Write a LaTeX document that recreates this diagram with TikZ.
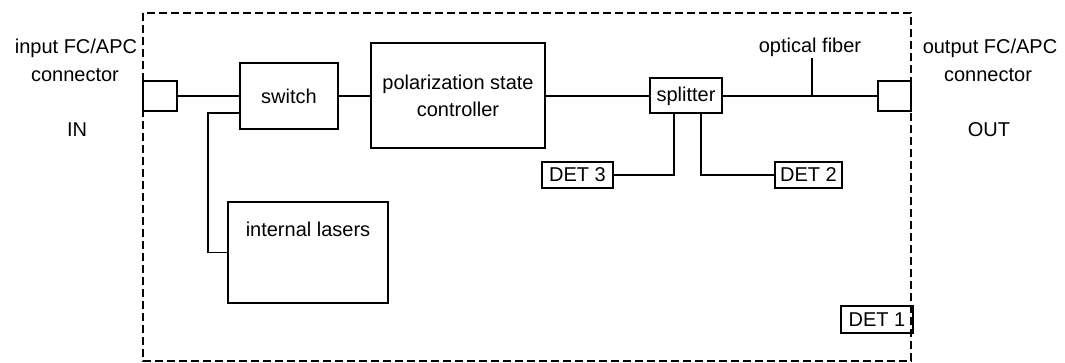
\documentclass[tikz,border=0pt]{standalone}
\usepackage{fontspec}
\setmainfont{Liberation Sans}
\begin{document}
\begin{tikzpicture}[x=0.75pt,y=-0.75pt,
  every node/.style={font=\fontsize{15}{18}\selectfont},
  blk/.style={draw,line width=1.5pt,inner sep=0pt,align=center},
  txt/.style={inner sep=0pt,align=center},
  wire/.style={line width=1.3pt},
  frame/.style={line width=1.8pt,dash pattern=on 6pt off 3pt}]
\useasboundingbox (0,0) rectangle (1065,363);
\draw[frame] (143,13) rectangle (911,361);
% boxes
\node[blk,minimum width=25.5pt,minimum height=22.5pt] (inconn) at (160,96) {};
\node[blk,minimum width=73.5pt,minimum height=49.5pt] (switch) at (289,96) {switch};
\node[blk,minimum width=130.5pt,minimum height=78.75pt] (psc) at (458,96) {polarization state\\[2pt]controller};
\node[blk,minimum width=54pt,minimum height=26.25pt] (splitter) at (686,96) {splitter};
\node[blk,minimum width=24.75pt,minimum height=22.5pt] (outconn) at (894.5,96) {};
\node[blk,minimum width=120pt,minimum height=75.75pt] (lasers) at (308,252.5) {};
\node[txt] (laserstxt) at (308,229) {internal lasers};
\node[blk,minimum width=53.25pt,minimum height=19.5pt] (det3) at (577.5,175) {DET 3};
\node[blk,minimum width=50.25pt,minimum height=19.5pt] (det2) at (808.5,175) {DET 2};
\node[blk,minimum width=54pt,minimum height=20.25pt] (det1) at (877,319.5) {DET 1};
% labels
\node[txt] (inlab1) at (76,48) {input FC/APC};
\node[txt] (inlab2) at (75,75) {connector};
\node[txt] (inlab3) at (77,130) {IN};
\node[txt] (outlab1) at (990,48) {output FC/APC};
\node[txt] (outlab2) at (988,75) {connector};
\node[txt] (outlab3) at (989,130) {OUT};
\node[txt] (fiber) at (810,47) {optical fiber};
% helper coordinates
\coordinate (sw1) at (240,113);
\coordinate (bend1) at (208,113);
\coordinate (xa) at (674,0);
\coordinate (xb) at (701,0);
\coordinate (xf) at (812,0);
% connectors
\draw[wire] (inconn.east) -- (inconn.east -| switch.west);
\draw[wire] (switch.east) -- (switch.east -| psc.west);
\draw[wire] (psc.east) -- (psc.east -| splitter.west);
\draw[wire] (splitter.east) -- (splitter.east -| outconn.west);
\draw[wire] (sw1) -- (bend1) |- (lasers.west);
\draw[wire] (splitter.south -| xa) |- (det3.east);
\draw[wire] (splitter.south -| xb) |- (det2.west);
\draw[wire] ([yshift=-1pt]fiber.south -| xf) -- (splitter.east -| xf);
\end{tikzpicture}
\end{document}
